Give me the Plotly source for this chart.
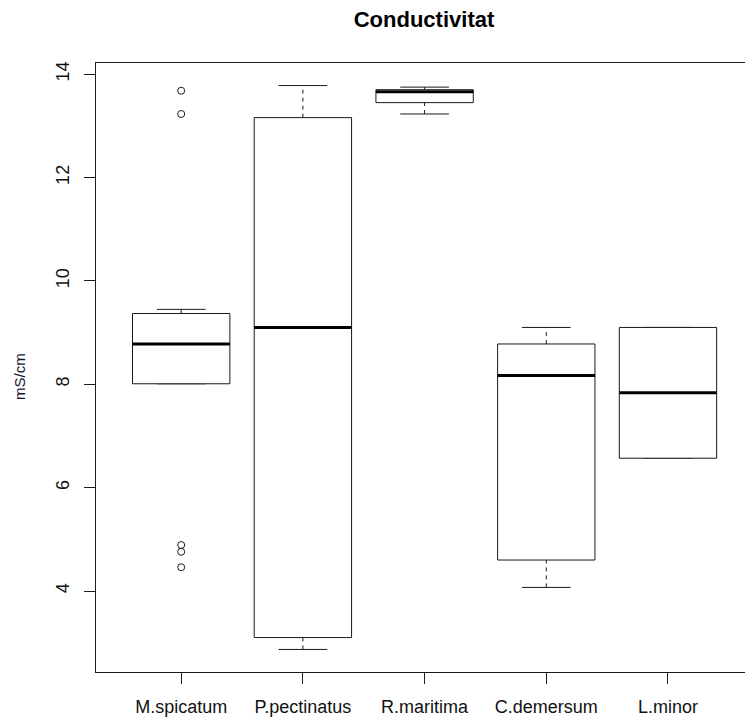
import plotly.graph_objects as go

# Conductivity summary per species (mS/cm)
species = ["M.spicatum", "P.pectinatus", "R.maritima", "C.demersum", "L.minor"]
lower_whisker = [8.01, 2.87, 13.23, 4.07, 6.57]
q1 = [8.01, 3.10, 13.45, 4.60, 6.57]
median = [8.78, 9.10, 13.66, 8.17, 7.835]
q3 = [9.37, 13.16, 13.70, 8.78, 9.10]
upper_whisker = [9.45, 13.78, 13.75, 9.10, 9.10]

# Outlying observations
outlier_species = ["M.spicatum"] * 5
outlier_values = [13.68, 13.23, 4.89, 4.76, 4.46]

BOX_W = 0.8          # box width in category units
STAPLE_W = 0.4       # whisker cap width
INK = "#1a1a1a"
FONT = "Liberation Sans, Arial, sans-serif"

pos = {name: i + 1 for i, name in enumerate(species)}
xs = [pos[s] for s in species]

fig = go.Figure()

# whiskers (dashed)
wx, wy = [], []
for x, a, b, c, d in zip(xs, lower_whisker, q1, q3, upper_whisker):
    wx += [x, x, None, x, x, None]
    wy += [a, b, None, c, d, None]
fig.add_trace(go.Scatter(x=wx, y=wy, mode="lines", hoverinfo="skip",
                         line=dict(color=INK, width=1, dash="4px,4px")))

# whisker caps
sx, sy = [], []
for x, a, d in zip(xs, lower_whisker, upper_whisker):
    h = STAPLE_W / 2
    sx += [x - h, x + h, None, x - h, x + h, None]
    sy += [a, a, None, d, d, None]
fig.add_trace(go.Scatter(x=sx, y=sy, mode="lines", hoverinfo="skip",
                         line=dict(color=INK, width=1)))

# boxes
bx, by = [], []
for x, b, c in zip(xs, q1, q3):
    h = BOX_W / 2
    bx += [x - h, x + h, x + h, x - h, x - h, None]
    by += [b, b, c, c, b, None]
fig.add_trace(go.Scatter(x=bx, y=by, mode="lines", fill="toself",
                         fillcolor="white", hoverinfo="skip",
                         line=dict(color=INK, width=1)))

# medians (thick)
mx, my = [], []
for x, m in zip(xs, median):
    h = BOX_W / 2
    mx += [x - h, x + h, None]
    my += [m, m, None]
fig.add_trace(go.Scatter(x=mx, y=my, mode="lines", hoverinfo="skip",
                         line=dict(color="black", width=3)))

# outliers
fig.add_trace(go.Scatter(x=[pos[s] for s in outlier_species], y=outlier_values,
                         mode="markers",
                         marker=dict(symbol="circle-open", size=7,
                                     color=INK, line=dict(width=1))))

all_vals = lower_whisker + upper_whisker + outlier_values
lo, hi = min(all_vals), max(all_vals)
pad = 0.04 * (hi - lo)

fig.update_layout(
    width=745, height=717,
    margin=dict(l=96, r=0, t=63, b=45),
    paper_bgcolor="white", plot_bgcolor="white",
    showlegend=False,
    font=dict(family=FONT, size=18, color="#111111"),
    title=dict(text="Conductivitat", x=424 / 745, xanchor="center",
               y=1 - 19 / 717, yanchor="middle",
               font=dict(family=FONT, size=22, color="black", weight="bold")),
    xaxis=dict(range=[0.3, 0.3 + 649 / 121.7],
               tickmode="array", tickvals=xs, ticktext=species,
               showline=True, mirror=True, linecolor=INK, linewidth=1,
               ticks="outside", ticklen=11, tickcolor=INK, tickwidth=1,
               showgrid=False, zeroline=False, ticklabelstandoff=7),
    yaxis=dict(range=[lo - pad, hi + pad],
               tickmode="array", tickvals=[4, 6, 8, 10, 12, 14],
               tickangle=-90,
               showline=True, mirror=False, linecolor=INK, linewidth=1,
               ticks="outside", ticklen=11, tickcolor=INK, tickwidth=1,
               showgrid=False, zeroline=False, ticklabelstandoff=8),
    annotations=[dict(text="mS/cm", textangle=-90, showarrow=False,
                      xref="paper", yref="paper",
                      x=(19 - 96) / 649, y=(672 - 377) / 609,
                      xanchor="center", yanchor="middle",
                      font=dict(family=FONT, size=15, color="#111133"))],
)

fig.write_html("out.html")
